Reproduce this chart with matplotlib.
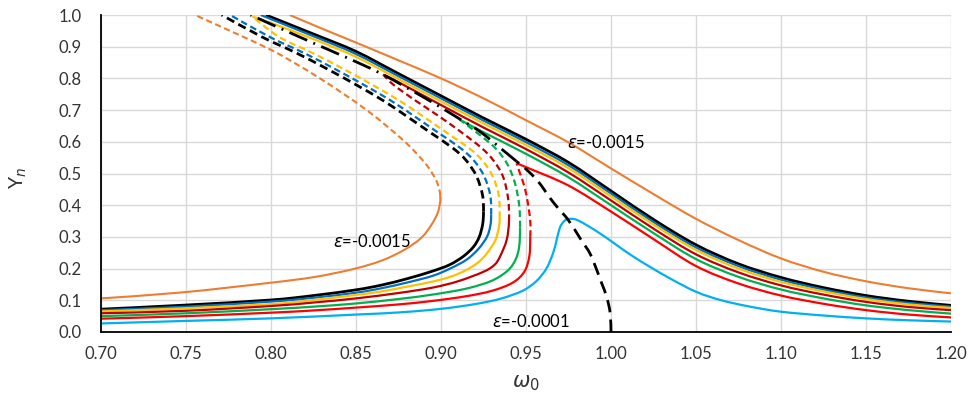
import matplotlib
matplotlib.use("Agg")
import matplotlib.pyplot as plt
from matplotlib.path import Path
from matplotlib.patches import PathPatch
import numpy as np

plt.rcParams['font.family'] = ['Lato', 'DejaVu Sans']
plt.rcParams['mathtext.fontset'] = 'dejavusans'

# ---- frequency-response branches, (omega0, Yn) pairs ----
orange_lower = [(0.70, 0.106), (0.748, 0.125), (0.7975, 0.154), (0.825, 0.173), (0.848, 0.198),
                (0.865, 0.225), (0.878, 0.258), (0.888, 0.295), (0.894, 0.335), (0.898, 0.375),
                (0.8995, 0.41), (0.8995, 0.43)]
orange_unstable = [(0.8995, 0.43), (0.899, 0.45), (0.897, 0.48), (0.8925, 0.52), (0.887, 0.555),
                   (0.8798, 0.595), (0.868, 0.65), (0.8563, 0.70), (0.843, 0.75), (0.8288, 0.80),
                   (0.815, 0.845), (0.80, 0.89), (0.778, 0.945), (0.7553, 1.0)]
orange_upper = [(0.811, 1.0), (0.83, 0.957), (0.85, 0.913), (0.875, 0.857), (0.90, 0.80), (0.925, 0.737),
                (0.95, 0.668), (0.975, 0.598), (1.0, 0.516), (1.025, 0.435), (1.05, 0.357), (1.075, 0.29),
                (1.10, 0.232), (1.125, 0.19), (1.15, 0.16), (1.175, 0.138), (1.20, 0.122)]

black_lower = [(0.70, 0.072), (0.75, 0.085), (0.80, 0.101), (0.825, 0.115), (0.85, 0.133), (0.865, 0.148),
               (0.88, 0.168), (0.895, 0.192), (0.905, 0.212), (0.913, 0.238), (0.919, 0.268), (0.9225, 0.30),
               (0.9245, 0.34), (0.925, 0.38)]
black_unstable = [(0.925, 0.38), (0.9245, 0.43), (0.921, 0.49), (0.915, 0.54), (0.907, 0.58), (0.8935, 0.63),
                  (0.88, 0.68), (0.866, 0.73), (0.85, 0.78), (0.833, 0.83), (0.815, 0.88), (0.795, 0.93),
                  (0.771, 1.0)]
black_upper = [(0.797, 1.0), (0.825, 0.94), (0.85, 0.885), (0.875, 0.815), (0.90, 0.745), (0.925, 0.675),
               (0.95, 0.608), (0.975, 0.535), (1.0, 0.445), (1.025, 0.355), (1.05, 0.275), (1.075, 0.215),
               (1.10, 0.172), (1.125, 0.14), (1.15, 0.115), (1.175, 0.097), (1.20, 0.084)]

blue_lower = [(0.70, 0.069), (0.75, 0.080), (0.80, 0.096), (0.825, 0.108), (0.85, 0.124), (0.865, 0.138),
              (0.88, 0.156), (0.895, 0.177), (0.9053, 0.20), (0.915, 0.228), (0.922, 0.262), (0.927, 0.30),
              (0.929, 0.335), (0.9295, 0.37)]
blue_unstable = [(0.9295, 0.37), (0.929, 0.43), (0.9255, 0.49), (0.9195, 0.54), (0.9115, 0.58), (0.898, 0.63),
                 (0.8845, 0.68), (0.8705, 0.73), (0.8545, 0.78), (0.8375, 0.83), (0.8195, 0.88),
                 (0.7995, 0.93), (0.776, 1.0)]
blue_upper = [(0.794, 1.0), (0.825, 0.933), (0.85, 0.877), (0.875, 0.807), (0.90, 0.737), (0.925, 0.667),
              (0.95, 0.599), (0.975, 0.526), (1.0, 0.437), (1.025, 0.347), (1.05, 0.267), (1.075, 0.208),
              (1.10, 0.165), (1.125, 0.134), (1.15, 0.109), (1.175, 0.092), (1.20, 0.080)]

yellow_lower = [(0.70, 0.065), (0.75, 0.075), (0.80, 0.088), (0.825, 0.101), (0.85, 0.117), (0.865, 0.128),
                (0.88, 0.143), (0.895, 0.159), (0.906, 0.175), (0.915, 0.196), (0.922, 0.22), (0.927, 0.248),
                (0.932, 0.29), (0.934, 0.33), (0.9345, 0.36)]
yellow_unstable = [(0.9345, 0.36), (0.934, 0.43), (0.9305, 0.49), (0.9245, 0.54), (0.9165, 0.58),
                   (0.903, 0.63), (0.8895, 0.68), (0.8755, 0.73), (0.8595, 0.78), (0.8425, 0.83),
                   (0.8245, 0.88), (0.805, 0.93), (0.789, 0.995)]
yellow_upper = [(0.789, 0.995), (0.80, 0.975), (0.825, 0.924), (0.85, 0.868), (0.875, 0.798), (0.90, 0.728),
                (0.925, 0.658), (0.95, 0.59), (0.975, 0.517), (1.0, 0.428), (1.025, 0.339), (1.05, 0.259),
                (1.075, 0.20), (1.10, 0.158), (1.125, 0.128), (1.15, 0.104), (1.175, 0.087), (1.20, 0.076)]

darkred_lower = [(0.70, 0.059), (0.75, 0.067), (0.80, 0.082), (0.825, 0.093), (0.85, 0.106), (0.875, 0.123),
                 (0.895, 0.14), (0.91, 0.16), (0.925, 0.19), (0.9315, 0.212), (0.9347, 0.238),
                 (0.9386, 0.29), (0.940, 0.35)]
darkred_unstable = [(0.940, 0.35), (0.9395, 0.42), (0.9365, 0.49), (0.931, 0.54), (0.924, 0.58),
                    (0.912, 0.63), (0.899, 0.68), (0.885, 0.73), (0.872, 0.78), (0.866, 0.812)]
darkred_upper = [(0.866, 0.812), (0.875, 0.788), (0.90, 0.716), (0.925, 0.645), (0.95, 0.577), (0.975, 0.503),
                 (1.0, 0.415), (1.025, 0.326), (1.05, 0.245), (1.075, 0.188), (1.10, 0.147), (1.125, 0.118),
                 (1.15, 0.095), (1.175, 0.079), (1.20, 0.069)]

green_lower = [(0.70, 0.05), (0.75, 0.059), (0.80, 0.072), (0.825, 0.080), (0.85, 0.090), (0.875, 0.104),
               (0.895, 0.118), (0.915, 0.137), (0.93, 0.162), (0.9395, 0.195), (0.944, 0.23), (0.946, 0.27),
               (0.9465, 0.33)]
green_unstable = [(0.9465, 0.33), (0.946, 0.40), (0.9435, 0.47), (0.939, 0.53), (0.932, 0.58), (0.922, 0.625),
                  (0.911, 0.670)]
green_upper = [(0.911, 0.670), (0.925, 0.630), (0.95, 0.562), (0.975, 0.488), (1.0, 0.40), (1.025, 0.312),
               (1.05, 0.230), (1.075, 0.174), (1.10, 0.134), (1.125, 0.106), (1.15, 0.084), (1.175, 0.069),
               (1.20, 0.058)]

red_lower = [(0.70, 0.042), (0.75, 0.05), (0.80, 0.061), (0.825, 0.068), (0.85, 0.077), (0.875, 0.087),
             (0.895, 0.098), (0.915, 0.113), (0.93, 0.13), (0.942, 0.155), (0.949, 0.19), (0.952, 0.24),
             (0.9525, 0.30)]
red_unstable = [(0.9525, 0.30), (0.9525, 0.35), (0.951, 0.41), (0.949, 0.46), (0.9465, 0.50), (0.9445, 0.532)]
red_upper = [(0.9445, 0.532), (0.95, 0.52), (0.975, 0.462), (1.0, 0.38), (1.025, 0.293), (1.05, 0.208),
             (1.075, 0.153), (1.10, 0.115), (1.125, 0.089), (1.15, 0.069), (1.175, 0.055), (1.20, 0.046)]

lightblue_curve = [(0.70, 0.027), (0.75, 0.035), (0.80, 0.043), (0.85, 0.055), (0.876, 0.062), (0.90, 0.073),
                   (0.92, 0.088), (0.935, 0.105), (0.948, 0.13), (0.956, 0.16), (0.962, 0.20), (0.966, 0.25),
                   (0.968, 0.29), (0.970, 0.33), (0.9725, 0.350), (0.9755, 0.357), (0.981, 0.351),
                   (0.9935, 0.311), (1.0131, 0.238), (1.0327, 0.175), (1.05, 0.127), (1.065, 0.10),
                   (1.0818, 0.080), (1.10, 0.064), (1.125, 0.052), (1.15, 0.043), (1.175, 0.037), (1.20, 0.033)]

# backbone curve (lower part long-dash, upper part dash-dot)
backbone_lower = [(1.0, 0.0), (0.9995, 0.06), (0.9975, 0.11), (0.9945, 0.154), (0.9916, 0.196),
                  (0.9876, 0.248), (0.9825, 0.29), (0.9749, 0.353), (0.969, 0.39), (0.9645, 0.42),
                  (0.9602, 0.453), (0.9563, 0.48), (0.9504, 0.512), (0.9445, 0.538)]
backbone_upper = [(0.9445, 0.538), (0.935, 0.58), (0.923, 0.632), (0.911, 0.672), (0.8935, 0.729),
                  (0.88, 0.77), (0.866, 0.812), (0.851, 0.85), (0.8366, 0.884), (0.815, 0.935), (0.788, 1.0)]

# annotation text and anchor (omega0, Yn)
labels = [("=-0.0015", 0.974, 0.599), ("=-0.0015", 0.8365, 0.284), ("=-0.0001", 0.930, 0.032)]

x_ticks = [0.70, 0.75, 0.80, 0.85, 0.90, 0.95, 1.00, 1.05, 1.10, 1.15, 1.20]
y_ticks = [0.0, 0.1, 0.2, 0.3, 0.4, 0.5, 0.6, 0.7, 0.8, 0.9, 1.0]

COLORS = {
    'orange': '#ED7D31', 'black': '#000000', 'blue': '#0070C0', 'yellow': '#FFC000',
    'darkred': '#C00000', 'green': '#00B050', 'red': '#FF0000', 'lightblue': '#00B0F0',
}

fig = plt.figure(figsize=(9.74, 3.94), dpi=100)
ax = fig.add_axes([101 / 974, 62 / 394, 850 / 974, 317 / 394])

DASH = (0, (3.0, 1.7))


def smooth_segments(points):
    """Cubic Bezier pieces of a smoothed (Catmull-Rom style) line through the points."""
    p = np.asarray(points, dtype=float)
    n = len(p)
    segs = []
    for i in range(n - 1):
        prev = p[i - 1] if i > 0 else p[i]
        nxt = p[i + 2] if i + 2 < n else p[i + 1]
        c1 = p[i] + (p[i + 1] - prev) / 6.0
        c2 = p[i + 1] - (nxt - p[i]) / 6.0
        segs.append((p[i], c1, c2, p[i + 1]))
    return segs


def draw_segments(segs, color, lw, ls='-', z=3):
    verts = [segs[0][0]]
    codes = [Path.MOVETO]
    for _, c1, c2, end in segs:
        verts += [c1, c2, end]
        codes += [Path.CURVE4] * 3
    patch = PathPatch(Path(verts, codes), fill=False, edgecolor=color, lw=lw,
                      linestyle=ls, zorder=z, capstyle='butt', joinstyle='round')
    ax.add_patch(patch)


def draw_chain(first, second, color, lw, ls_first, ls_second, z=3):
    """Smooth line through first+second points, styled separately on each side of the join."""
    pts = list(first) + list(second[1:])
    segs = smooth_segments(pts)
    k = len(first) - 1
    draw_segments(segs[:k], color, lw, ls_first, z)
    draw_segments(segs[k:], color, lw, ls_second, z)


families = [
    ('orange', orange_lower, orange_unstable, orange_upper, 1.5),
    ('black', black_lower, black_unstable, black_upper, 2.0),
    ('blue', blue_lower, blue_unstable, blue_upper, 1.6),
    ('yellow', yellow_lower, yellow_unstable, yellow_upper, 1.6),
    ('darkred', darkred_lower, darkred_unstable, darkred_upper, 1.6),
    ('green', green_lower, green_unstable, green_upper, 1.6),
    ('red', red_lower, red_unstable, red_upper, 1.6),
]
for name, low, uns, up, lw in families:
    c = COLORS[name]
    draw_chain(low, uns, c, lw, '-', DASH)
    draw_segments(smooth_segments(up), c, lw)

draw_segments(smooth_segments(lightblue_curve), COLORS['lightblue'], 1.6)

draw_chain(backbone_lower, backbone_upper, 'black', 2.0, (0, (4.5, 2.6)), (0, (7.0, 2.4, 0.7, 2.4)), z=4)

for text, x, y in labels:
    ax.text(x, y, r'$\varepsilon$' + text, fontsize=12, ha='left', va='center', zorder=5)

ax.set_xlim(0.70, 1.20)
ax.set_ylim(0.0, 1.0)
ax.set_xticks(x_ticks)
ax.set_yticks(y_ticks)
ax.set_xticklabels([f'{v:.2f}' for v in x_ticks])
ax.set_yticklabels([f'{v:.1f}' for v in y_ticks])
ax.tick_params(axis='both', length=0, labelsize=12, labelcolor='#333333')
ax.tick_params(axis='x', pad=10)
ax.tick_params(axis='y', pad=14)
ax.grid(True, color='#D9D9D9', lw=1.0, zorder=0)
ax.set_axisbelow(True)
for s in ('top', 'right'):
    ax.spines[s].set_visible(False)
for s in ('left', 'bottom'):
    ax.spines[s].set_color('black')
    ax.spines[s].set_linewidth(1.3)
    ax.spines[s].set_zorder(6)

ax.set_xlabel(r'$\omega_0$', fontsize=15, color='#333333')
ax.xaxis.set_label_coords(0.5, -0.13)
ax.set_ylabel(r'Y$_{n}$', fontsize=14, color='#333333')
ax.yaxis.set_label_coords(-0.085, 0.485)

fig.savefig('out.png', dpi=100)
